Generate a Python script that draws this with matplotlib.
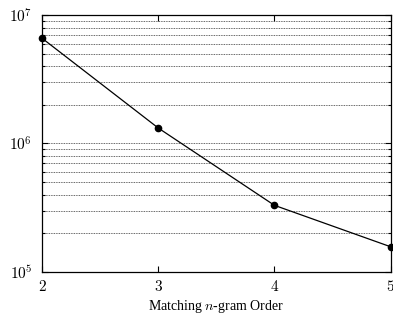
import numpy as np
from matplotlib import pyplot as plt
from matplotlib.ticker import LogLocator, NullFormatter, FuncFormatter

orders = [2, 3, 4, 5]
counts = [6.6e6, 1.32e6, 3.3e5, 1.57e5]

plt.rcParams['font.family'] = ['Liberation Serif', 'DejaVu Serif']
plt.rcParams['mathtext.fontset'] = 'cm'

fig = plt.figure(figsize=(3.93, 3.14), dpi=100)
ax = fig.add_axes([0.107, 0.134, 0.887, 0.818])

ax.plot(orders, counts, color='black', linewidth=0.9, marker='o',
        markersize=4.5, clip_on=False, zorder=3)
ax.set_yscale('log')
ax.set_xlim(2, 5)
ax.set_ylim(1e5, 1e7)
ax.set_xticks(orders)
ax.xaxis.set_major_formatter(FuncFormatter(lambda v, p: '$%d$' % v))
ax.yaxis.set_major_formatter(
    FuncFormatter(lambda v, p: '$10^{%d}$' % round(np.log10(v))))
ax.yaxis.set_minor_locator(LogLocator(base=10, subs=np.arange(2, 10)))
ax.yaxis.set_minor_formatter(NullFormatter())
ax.grid(True, which='both', axis='y', linestyle=(0, (1, 1)),
        color='#333333', linewidth=0.6)
ax.tick_params(which='both', direction='in', top=True, right=True,
               labelsize=11, width=0.8)
ax.tick_params(which='major', length=4)
ax.tick_params(which='minor', length=2)
ax.tick_params(axis='y', which='major', pad=7)
ax.tick_params(axis='x', which='major', pad=5)
for s in ax.spines.values():
    s.set_linewidth(0.9)
ax.set_xlabel('Matching $n$-gram Order', fontsize=10, labelpad=3)

plt.savefig('out.png', dpi=100)
